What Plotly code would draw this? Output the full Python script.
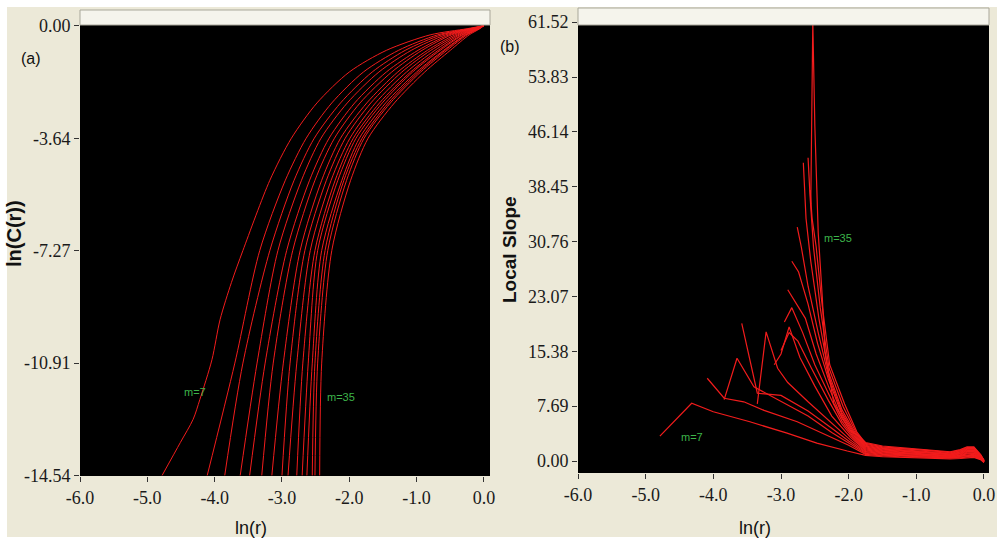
import plotly.graph_objects as go

W, H = 997, 541

# ---------------- Panel (a): ln C(r) vs ln r ----------------
m_values = [7, 9, 11, 13, 15, 17, 19, 21, 23, 25, 27, 29, 31, 33, 35]

a_m7_lnr = [-4.78, -4.51, -4.32, -4.22, -4.04, -3.92, -3.75, -3.58, -3.18, -2.86, -2.48, -2.00, -1.45, -0.80, -0.25, 0.0]
a_m7_lnC = [-14.54, -13.48, -12.73, -12.09, -10.80, -9.51, -8.30, -7.27, -5.0, -3.64, -2.5, -1.5, -0.8, -0.3, -0.1, 0.0]

a_lnC_levels = [-14.54, -10.91, -7.27, -5.0, -3.64, -2.5, -1.5, -0.8, -0.3, -0.1, 0.0]
a_lnr_m9 = [-4.11, -3.70, -3.33, -2.95, -2.64, -2.26, -1.79, -1.27, -0.69, -0.21, 0.0]
a_lnr_m11 = [-3.85, -3.58, -3.18, -2.82, -2.52, -2.13, -1.66, -1.17, -0.63, -0.19, 0.0]
a_lnr_m13 = [-3.62, -3.37, -3.06, -2.71, -2.42, -2.03, -1.56, -1.08, -0.57, -0.18, 0.0]
a_lnr_m15 = [-3.48, -3.25, -2.93, -2.59, -2.30, -1.92, -1.45, -0.98, -0.52, -0.16, 0.0]
a_lnr_m17 = [-3.30, -3.13, -2.84, -2.51, -2.22, -1.84, -1.37, -0.92, -0.48, -0.14, 0.0]
a_lnr_m19 = [-3.15, -2.98, -2.73, -2.41, -2.13, -1.74, -1.28, -0.84, -0.43, -0.13, 0.0]
a_lnr_m21 = [-3.00, -2.88, -2.66, -2.34, -2.06, -1.68, -1.22, -0.79, -0.39, -0.12, 0.0]
a_lnr_m23 = [-2.91, -2.78, -2.58, -2.27, -1.99, -1.61, -1.15, -0.73, -0.36, -0.11, 0.0]
a_lnr_m25 = [-2.78, -2.69, -2.51, -2.21, -1.94, -1.55, -1.09, -0.68, -0.33, -0.10, 0.0]
a_lnr_m27 = [-2.70, -2.61, -2.47, -2.17, -1.90, -1.51, -1.06, -0.65, -0.31, -0.09, 0.0]
a_lnr_m29 = [-2.63, -2.55, -2.41, -2.11, -1.85, -1.46, -1.00, -0.60, -0.28, -0.08, 0.0]
a_lnr_m31 = [-2.55, -2.51, -2.36, -2.08, -1.81, -1.42, -0.97, -0.58, -0.27, -0.08, 0.0]
a_lnr_m33 = [-2.51, -2.47, -2.32, -2.04, -1.78, -1.39, -0.94, -0.55, -0.25, -0.07, 0.0]
a_lnr_m35 = [-2.44, -2.41, -2.26, -1.98, -1.72, -1.33, -0.88, -0.50, -0.22, -0.06, 0.0]

a_other = [a_lnr_m9, a_lnr_m11, a_lnr_m13, a_lnr_m15, a_lnr_m17, a_lnr_m19, a_lnr_m21,
           a_lnr_m23, a_lnr_m25, a_lnr_m27, a_lnr_m29, a_lnr_m31, a_lnr_m33, a_lnr_m35]

a_xticks = [-6.0, -5.0, -4.0, -3.0, -2.0, -1.0, 0.0]
a_xtick_text = ["-6.0", "-5.0", "-4.0", "-3.0", "-2.0", "-1.0", "0.0"]
a_yticks = [0.0, -3.64, -7.27, -10.91, -14.54]
a_ytick_text = ["0.00", "-3.64", "-7.27", "-10.91", "-14.54"]

# ---------------- Panel (b): local slope vs ln r ----------------
b_head_lnr = [
    [-4.79, -4.32, -4.00, -3.46, -2.91, -2.47, -2.02],
    [-4.09, -3.84, -3.55, -3.25, -2.76, -2.28, -2.00],
    [-3.84, -3.65, -3.40, -3.00, -2.60, -2.25, -2.00],
    [-3.58, -3.35, -3.00, -2.60, -2.25, -2.00],
    [-3.35, -3.22, -3.05, -2.90, -2.60, -2.25, -1.98],
    [-3.10, -3.00, -2.88, -2.72, -2.50, -2.25, -1.97],
    [-3.00, -2.88, -2.75, -2.55, -2.30, -2.10, -1.95],
    [-2.95, -2.84, -2.68, -2.50, -2.30, -2.10, -1.94],
    [-2.90, -2.80, -2.64, -2.48, -2.30, -2.10, -1.93],
    [-2.84, -2.74, -2.60, -2.46, -2.30, -2.10, -1.92],
    [-2.76, -2.70, -2.60, -2.45, -2.30, -2.10, -1.91],
    [-2.67, -2.63, -2.56, -2.44, -2.30, -2.10, -1.90],
    [-2.60, -2.57, -2.52, -2.42, -2.29, -2.08, -1.89],
    [-2.57, -2.54, -2.48, -2.40, -2.28, -2.06, -1.88],
    [-2.56, -2.53, -2.50, -2.45, -2.39, -2.35, -2.22, -1.98, -1.85],
]
b_head_slope = [
    [3.5, 8.1, 6.9, 5.5, 3.9, 2.5, 1.4],
    [11.6, 8.8, 8.3, 7.1, 5.5, 3.4, 2.2],
    [8.6, 14.4, 10.4, 8.3, 6.3, 4.0, 2.5],
    [19.3, 9.5, 9.2, 7.0, 4.6, 2.8],
    [8.0, 18.1, 13.0, 11.0, 8.3, 5.3, 3.0],
    [13.5, 15.0, 18.8, 14.5, 10.5, 6.3, 3.3],
    [15.5, 18.0, 16.8, 13.0, 8.5, 5.2, 3.4],
    [19.5, 21.5, 18.0, 13.5, 9.5, 5.6, 3.5],
    [24.0, 22.5, 20.0, 15.0, 10.5, 6.0, 3.6],
    [28.0, 26.5, 22.0, 16.5, 11.5, 6.5, 3.7],
    [32.8, 30.0, 24.5, 18.0, 12.0, 6.8, 3.8],
    [41.8, 34.0, 28.0, 20.0, 12.5, 7.2, 3.9],
    [42.5, 37.0, 30.0, 21.5, 13.0, 7.6, 4.0],
    [38.0, 34.0, 30.0, 22.5, 13.5, 8.0, 4.1],
    [36.0, 61.5, 47.0, 32.0, 23.0, 15.4, 8.1, 4.3, 3.5],
]
b_tail_lnr = [-1.75, -1.5, -1.25, -1.0, -0.75, -0.5, -0.35, -0.25, -0.15, -0.05, 0.0]
b_tail_slope = [
    [0.80, 0.60, 0.52, 0.45, 0.40, 0.30, 0.35, 0.45, 0.50, 0.20, -0.20],
    [0.93, 0.71, 0.60, 0.55, 0.49, 0.37, 0.44, 0.56, 0.61, 0.25, -0.18],
    [1.06, 0.81, 0.70, 0.64, 0.57, 0.44, 0.53, 0.67, 0.71, 0.30, -0.16],
    [1.19, 0.92, 0.80, 0.74, 0.66, 0.51, 0.62, 0.78, 0.82, 0.35, -0.14],
    [1.31, 1.03, 0.90, 0.84, 0.74, 0.59, 0.71, 0.89, 0.93, 0.40, -0.11],
    [1.44, 1.14, 1.00, 0.93, 0.83, 0.66, 0.80, 1.00, 1.04, 0.45, -0.09],
    [1.57, 1.24, 1.10, 1.03, 0.91, 0.73, 0.89, 1.11, 1.14, 0.50, -0.07],
    [1.70, 1.35, 1.20, 1.12, 1.00, 0.80, 0.98, 1.23, 1.25, 0.55, -0.05],
    [1.83, 1.46, 1.30, 1.22, 1.09, 0.87, 1.06, 1.34, 1.36, 0.60, -0.03],
    [1.96, 1.56, 1.40, 1.32, 1.17, 0.94, 1.15, 1.45, 1.46, 0.65, -0.01],
    [2.09, 1.67, 1.50, 1.41, 1.26, 1.01, 1.24, 1.56, 1.57, 0.70, 0.01],
    [2.21, 1.78, 1.60, 1.51, 1.34, 1.09, 1.33, 1.67, 1.68, 0.75, 0.04],
    [2.34, 1.89, 1.70, 1.61, 1.43, 1.16, 1.42, 1.78, 1.79, 0.80, 0.06],
    [2.47, 1.99, 1.80, 1.70, 1.51, 1.23, 1.51, 1.89, 1.89, 0.85, 0.08],
    [2.60, 2.10, 1.90, 1.80, 1.60, 1.30, 1.60, 2.00, 2.00, 0.90, 0.10],
]

b_xticks = [-6.0, -5.0, -4.0, -3.0, -2.0, -1.0, 0.0]
b_xtick_text = ["-6.0", "-5.0", "-4.0", "-3.0", "-2.0", "-1.0", "0.0"]
b_yticks = [0.0, 7.69, 15.38, 23.07, 30.76, 38.45, 46.14, 53.83, 61.52]
b_ytick_text = ["0.00", "7.69", "15.38", "23.07", "30.76", "38.45", "46.14", "53.83", "61.52"]

# ---------------- figure ----------------
RED = "#F21C1C"
fig = go.Figure()

fig.add_trace(go.Scatter(x=a_m7_lnr, y=a_m7_lnC, mode="lines",
                         line=dict(color=RED, width=1, shape="spline", smoothing=0.8),
                         xaxis="x", yaxis="y", showlegend=False, hoverinfo="skip"))
for xs in a_other:
    fig.add_trace(go.Scatter(x=xs, y=a_lnC_levels, mode="lines",
                             line=dict(color=RED, width=1, shape="spline", smoothing=0.8),
                             xaxis="x", yaxis="y", showlegend=False, hoverinfo="skip"))

for hx, hy, ty in zip(b_head_lnr, b_head_slope, b_tail_slope):
    fig.add_trace(go.Scatter(x=hx + b_tail_lnr, y=hy + ty, mode="lines", line=dict(color=RED, width=1.2),
                             xaxis="x2", yaxis="y2", showlegend=False, hoverinfo="skip"))


def px(p):
    return p / W


def py(p):
    return 1 - p / H


tickfont = dict(family="Liberation Serif, serif", size=18, color="#1a1a1a")
common = dict(showgrid=False, zeroline=False, showline=False, ticks="outside", ticklen=5,
              tickcolor="#333333", tickwidth=1, tickfont=tickfont, fixedrange=True, automargin=False)

fig.update_layout(
    width=W, height=H, margin=dict(l=0, r=0, t=0, b=0, pad=0), autosize=False,
    paper_bgcolor="#ECE9D8", plot_bgcolor="#000000",
    xaxis=dict(domain=[px(80), px(490)], range=[-6.0, 0.09], tickvals=a_xticks, ticktext=a_xtick_text,
               anchor="y", **common),
    yaxis=dict(domain=[py(476), py(25)], range=[-14.56, 0.02], tickvals=a_yticks, ticktext=a_ytick_text,
               anchor="x", **common),
    xaxis2=dict(domain=[px(578), px(989)], range=[-6.0, 0.074], tickvals=b_xticks, ticktext=b_xtick_text,
                anchor="y2", **common),
    yaxis2=dict(domain=[py(473), py(22)], range=[-1.68, 61.54], tickvals=b_yticks, ticktext=b_ytick_text,
                anchor="x2", **common),
)

shapes = [
    dict(type="rect", xref="paper", yref="paper", x0=0, x1=1, y0=py(7), y1=1,
         fillcolor="#FFFFFF", line=dict(width=0), layer="below"),
    dict(type="rect", xref="paper", yref="paper", x0=0, x1=px(7), y0=0, y1=1,
         fillcolor="#FFFFFF", line=dict(width=0), layer="below"),
    dict(type="rect", xref="paper", yref="paper", x0=0, x1=1, y0=0, y1=1 - 537 / H,
         fillcolor="#FFFFFF", line=dict(width=0), layer="below"),
    dict(type="rect", xref="paper", yref="paper", x0=px(80), x1=px(490), y0=py(25), y1=py(10),
         fillcolor="#F5F4EC", line=dict(color="#A9A79A", width=1), layer="above"),
    dict(type="rect", xref="paper", yref="paper", x0=px(578), x1=px(989), y0=py(25), y1=py(8),
         fillcolor="#F5F4EC", line=dict(color="#A9A79A", width=1), layer="above"),
]
fig.update_layout(shapes=shapes)

green = "#3DB54A"
lab_font = dict(family="Liberation Sans, Arial, sans-serif", size=11, color=green)
C = dict(xanchor="center", yanchor="middle", showarrow=False)
ann = [
    dict(x=-4.29, y=-11.86, xref="x", yref="y", text="m=7", font=lab_font, **C),
    dict(x=-2.12, y=-11.99, xref="x", yref="y", text="m=35", font=lab_font, **C),
    dict(x=-4.32, y=3.4, xref="x2", yref="y2", text="m=7", font=lab_font, **C),
    dict(x=-2.16, y=31.2, xref="x2", yref="y2", text="m=35", font=lab_font, **C),
    dict(x=px(31), y=py(58), xref="paper", yref="paper", text="(a)",
         font=dict(family="Liberation Sans, Arial, sans-serif", size=16, color="#111111"), **C),
    dict(x=px(510), y=py(47), xref="paper", yref="paper", text="(b)",
         font=dict(family="Liberation Sans, Arial, sans-serif", size=16, color="#111111"), **C),
    dict(x=px(14), y=py(234), xref="paper", yref="paper", text="<b>ln(C(r))</b>", textangle=-90,
         font=dict(family="Liberation Sans, Arial, sans-serif", size=20, color="#111111"), **C),
    dict(x=px(509), y=py(250), xref="paper", yref="paper", text="<b>Local Slope</b>", textangle=-90,
         font=dict(family="Liberation Sans, Arial, sans-serif", size=19, color="#111111"), **C),
    dict(x=px(251), y=py(528), xref="paper", yref="paper", text="ln(r)",
         font=dict(family="Liberation Sans, Arial, sans-serif", size=18, color="#111111"), **C),
    dict(x=px(755), y=py(528), xref="paper", yref="paper", text="ln(r)",
         font=dict(family="Liberation Sans, Arial, sans-serif", size=18, color="#111111"), **C),
]
fig.update_layout(annotations=ann)

fig.write_html("out.html")
